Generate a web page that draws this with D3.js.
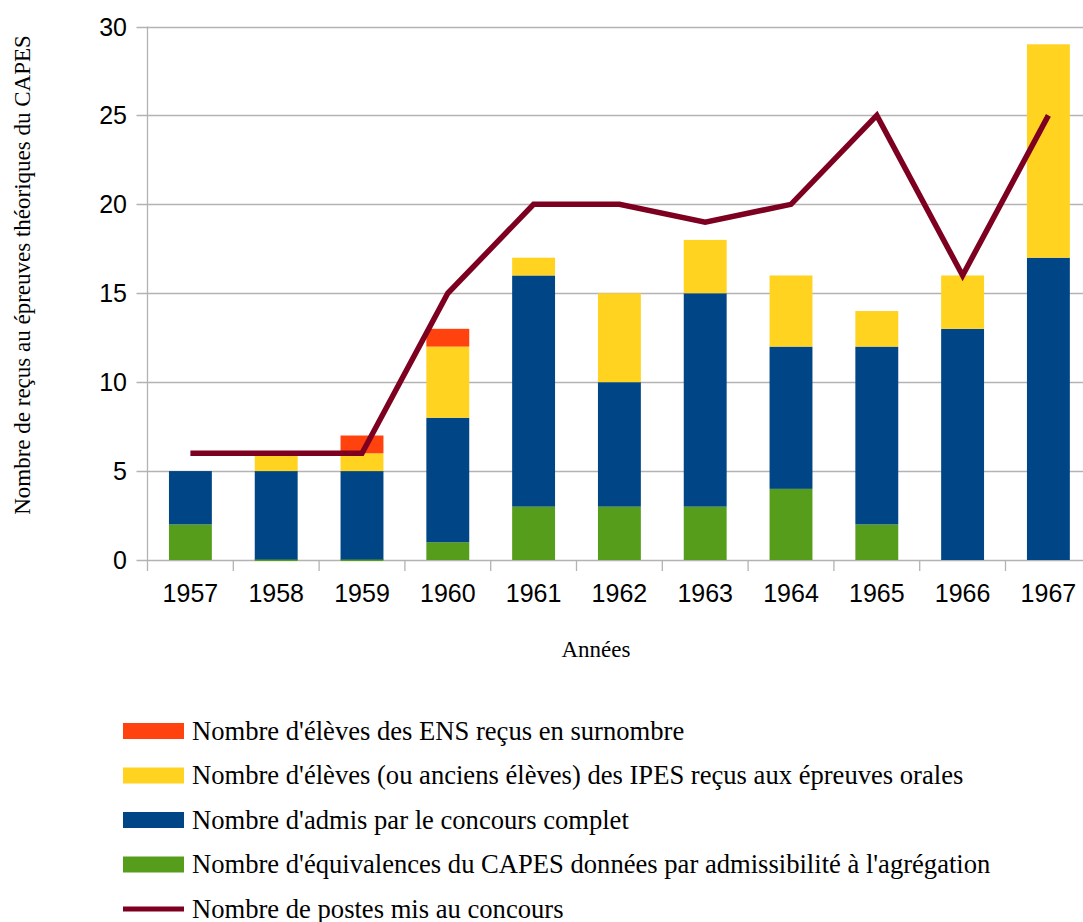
<!DOCTYPE html>
<html>
<head>
<meta charset="utf-8">
<script src="https://cdn.jsdelivr.net/npm/d3@7"></script>
<style>
  body { margin: 0; background: #fff; }
  svg { display: block; }
</style>
</head>
<body>
<div id="chart"></div>
<script>
// values
const years = ["1957", "1958", "1959", "1960", "1961", "1962", "1963", "1964", "1965", "1966", "1967"];
const equivalences = [2, 0, 0, 1, 3, 3, 3, 4, 2, null, null];
const admis = [3, 5, 5, 7, 13, 7, 12, 8, 10, 13, 17];
const ipes = [0, 1, 1, 4, 1, 5, 3, 4, 2, 3, 12];
const ens = [0, 0, 1, 1, 0, 0, 0, 0, 0, 0, 0];
const postes = [6, 6, 6, 15, 20, 20, 19, 20, 25, 16, 25];
const yTicks = [0, 5, 10, 15, 20, 25, 30];

const series = [
    { key: "equiv", values: equivalences, color: "#579d1c", label: "Nombre d'équivalences du CAPES données par admissibilité à l'agrégation" },
    { key: "admis", values: admis, color: "#004586", label: "Nombre d'admis par le concours complet" },
    { key: "ipes", values: ipes, color: "#ffd320", label: "Nombre d'élèves (ou anciens élèves) des IPES reçus aux épreuves orales" },
    { key: "ens", values: ens, color: "#ff420e", label: "Nombre d'élèves des ENS reçus en surnombre" }
];
const lineColor = "#7e0021";

const width = 1083, height = 922;
const plotLeft = 147.5, plotRight = 1091.3, plotTop = 26.5, plotBottom = 560;

const svg = d3.select("#chart").append("svg")
    .attr("width", width)
    .attr("height", height);

const x = d3.scaleBand().domain(years).range([plotLeft, plotRight]).paddingInner(0).paddingOuter(0);
const y = d3.scaleLinear().domain([0, 30]).range([plotBottom, plotTop]);
const barW = x.bandwidth() * 0.5;

// grid lines
svg.append("g")
    .selectAll("line")
    .data(yTicks)
    .join("line")
    .attr("x1", plotLeft - 11)
    .attr("x2", plotRight)
    .attr("y1", d => Math.round(y(d)) + 0.5)
    .attr("y2", d => Math.round(y(d)) + 0.5)
    .attr("stroke", "#b3b3b3")
    .attr("stroke-width", 1.3);

// y axis line
svg.append("line")
    .attr("x1", plotLeft).attr("x2", plotLeft)
    .attr("y1", y(30)).attr("y2", plotBottom + 11)
    .attr("stroke", "#b3b3b3").attr("stroke-width", 1.3);

// x ticks between categories
svg.append("g")
    .selectAll("line")
    .data(years.slice(1))
    .join("line")
    .attr("x1", d => x(d)).attr("x2", d => x(d))
    .attr("y1", plotBottom).attr("y2", plotBottom + 11)
    .attr("stroke", "#b3b3b3").attr("stroke-width", 1.3);

// y tick labels
svg.append("g")
    .selectAll("text")
    .data(yTicks)
    .join("text")
    .attr("x", 127)
    .attr("y", d => y(d))
    .attr("dy", "0.36em")
    .attr("text-anchor", "end")
    .attr("font-family", "Liberation Sans, Arial, sans-serif")
    .attr("font-size", 25)
    .attr("fill", "#000")
    .text(d => d);

// x tick labels
svg.append("g")
    .selectAll("text")
    .data(years)
    .join("text")
    .attr("x", d => x(d) + x.bandwidth() / 2)
    .attr("y", 602)
    .attr("text-anchor", "middle")
    .attr("font-family", "Liberation Sans, Arial, sans-serif")
    .attr("font-size", 25)
    .attr("fill", "#000")
    .text(d => d);

// stacked bars
const rows = years.map((yr, i) => {
    const r = { year: yr };
    series.forEach(s => { r[s.key] = s.values[i] || 0; });
    return r;
});
const stacked = d3.stack().keys(series.map(s => s.key))(rows);

stacked.forEach((layer, si) => {
    const s = series[si];
    svg.append("g")
        .attr("fill", s.color)
        .selectAll("rect")
        .data(layer.map((d, i) => ({ d, i })).filter(o => s.values[o.i] > 0))
        .join("rect")
        .attr("x", o => x(years[o.i]) + (x.bandwidth() - barW) / 2)
        .attr("width", barW)
        .attr("y", o => y(o.d[1]))
        .attr("height", o => y(o.d[0]) - y(o.d[1]));
});

// zero-valued green segments show as a thin line on the base
svg.append("g")
    .attr("fill", series[0].color)
    .selectAll("rect")
    .data(years.filter((yr, i) => equivalences[i] === 0))
    .join("rect")
    .attr("x", d => x(d) + (x.bandwidth() - barW) / 2)
    .attr("width", barW)
    .attr("y", y(0) - 0.5)
    .attr("height", 1.5);

// line
const line = d3.line()
    .x((d, i) => x(years[i]) + x.bandwidth() / 2)
    .y(d => y(d));

svg.append("path")
    .datum(postes)
    .attr("d", line)
    .attr("fill", "none")
    .attr("stroke", lineColor)
    .attr("stroke-width", 5.5)
    .attr("stroke-linejoin", "miter");

// axis titles
svg.append("text")
    .attr("transform", "translate(30," + 275 + ") rotate(-90)")
    .attr("text-anchor", "middle")
    .attr("font-family", "Liberation Serif, Times New Roman, serif")
    .attr("font-size", 23)
    .attr("fill", "#000")
    .text("Nombre de reçus au épreuves théoriques du CAPES");

svg.append("text")
    .attr("x", 596)
    .attr("y", 657)
    .attr("text-anchor", "middle")
    .attr("font-family", "Liberation Serif, Times New Roman, serif")
    .attr("font-size", 23)
    .attr("fill", "#000")
    .text("Années");

// legend
const legendItems = [
    { label: series[3].label, color: series[3].color, type: "rect" },
    { label: series[2].label, color: series[2].color, type: "rect" },
    { label: series[1].label, color: series[1].color, type: "rect" },
    { label: series[0].label, color: series[0].color, type: "rect" },
    { label: "Nombre de postes mis au concours", color: lineColor, type: "line" }
];

const legend = svg.append("g")
    .selectAll("g")
    .data(legendItems)
    .join("g")
    .attr("transform", (d, i) => "translate(123," + (731 + i * 44.5) + ")");

legend.filter(d => d.type === "rect").append("rect")
    .attr("x", 0).attr("y", -8)
    .attr("width", 61).attr("height", 16)
    .attr("fill", d => d.color);

legend.filter(d => d.type === "line").append("rect")
    .attr("x", 0).attr("y", -2.5)
    .attr("width", 61).attr("height", 5)
    .attr("fill", d => d.color);

legend.append("text")
    .attr("x", 69)
    .attr("y", 0)
    .attr("dy", "0.33em")
    .attr("font-family", "Liberation Serif, Times New Roman, serif")
    .attr("font-size", 26.6)
    .attr("fill", "#000")
    .text(d => d.label);
</script>
</body>
</html>
